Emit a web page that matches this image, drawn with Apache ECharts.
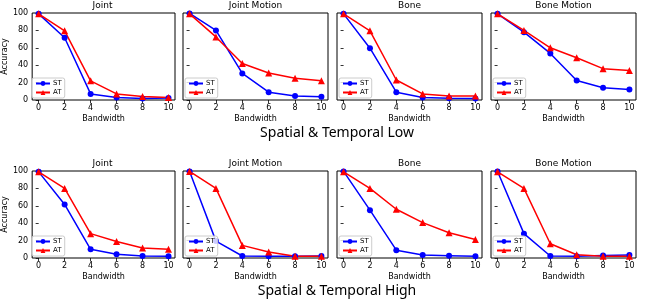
<!DOCTYPE html>
<html>
<head>
<meta charset="utf-8">
<script src="https://cdn.jsdelivr.net/npm/echarts@6/dist/echarts.min.js"></script>
<style>html,body{margin:0;padding:0;background:#fff;}#c{width:664px;height:301px;}</style>
</head>
<body>
<div id="c"></div>
<script>
var bandwidth = [0, 2, 4, 6, 8, 10];
var xTicks = [0, 2, 4, 6, 8, 10];
var yTicks = [0, 20, 40, 60, 80, 100];
var panelTitles = ['Joint', 'Joint Motion', 'Bone', 'Bone Motion'];
var rowCaptions = ['Spatial & Temporal Low', 'Spatial & Temporal High'];

// Row 1: Spatial & Temporal Low
var lowJointST = [99, 71.5, 7, 3, 1.8, 2.3];
var lowJointAT = [99, 79.5, 22, 7, 4, 2.8];
var lowJointMotionST = [99.5, 80, 30.5, 9, 4.6, 3.8];
var lowJointMotionAT = [99, 72.5, 42, 31, 25, 22];
var lowBoneST = [99, 59.5, 9, 3, 2, 1.7];
var lowBoneAT = [99, 79.5, 23, 7, 4.6, 4.6];
var lowBoneMotionST = [99, 78, 53.5, 22.5, 14, 12];
var lowBoneMotionAT = [99, 80, 60, 48.5, 36, 34];

// Row 2: Spatial & Temporal High
var highJointST = [99, 61.5, 10, 4.2, 2.3, 2];
var highJointAT = [99, 80, 28, 19, 11.4, 10];
var highJointMotionST = [99.5, 19.4, 2.3, 2, 2, 2.2];
var highJointMotionAT = [99.5, 80, 14.5, 7, 2, 2];
var highBoneST = [99.5, 55, 9, 3.4, 2.7, 2];
var highBoneAT = [99, 80, 56, 40.7, 29, 21.3];
var highBoneMotionST = [99.5, 28, 2.3, 2, 3, 3.4];
var highBoneMotionAT = [99, 80, 16.4, 3.8, 2, 2];

var rows = [
  [[lowJointST, lowJointAT], [lowJointMotionST, lowJointMotionAT], [lowBoneST, lowBoneAT], [lowBoneMotionST, lowBoneMotionAT]],
  [[highJointST, highJointAT], [highJointMotionST, highJointMotionAT], [highBoneST, highBoneAT], [highBoneMotionST, highBoneMotionAT]]
];

var lefts = [30, 183, 337, 491];
var gw = 145;
var tops = [13, 171];
var gh = 87;
var FONT = 'DejaVu Sans';

var grids = [], xAxes = [], yAxes = [], series = [], titles = [], legends = [];
function pairs(vals) { return bandwidth.map(function (b, i) { return [b, vals[i]]; }); }

for (var r = 0; r < 2; r++) {
  for (var p = 0; p < 4; p++) {
    var idx = r * 4 + p;
    grids.push({ left: lefts[p], top: tops[r], width: gw, height: gh, show: true, borderColor: '#000', borderWidth: 1, backgroundColor: 'transparent' });
    xAxes.push({
      type: 'value', gridIndex: idx, min: -0.5, max: 10.5,
      axisLine: { show: false }, splitLine: { show: false },
      axisTick: { show: true, length: 3, lineStyle: { color: '#000', width: 0.8 }, customValues: xTicks },
      axisLabel: { show: true, fontSize: 8, color: '#000', fontFamily: FONT, margin: 4, customValues: xTicks },
      name: 'Bandwidth', nameLocation: 'middle', nameGap: 15,
      nameTextStyle: { fontSize: 8, color: '#000', fontFamily: FONT }
    });
    yAxes.push({
      type: 'value', gridIndex: idx, min: 0, max: 100, interval: 20,
      axisLine: { show: false }, splitLine: { show: false },
      axisTick: { show: true, length: 3, lineStyle: { color: '#000', width: 0.8 } },
      axisLabel: { show: p === 0, fontSize: 8, color: '#000', fontFamily: FONT, margin: 4 },
      name: p === 0 ? 'Accuracy' : '', nameLocation: 'middle', nameGap: 19, nameRotate: 90,
      nameTextStyle: { fontSize: 8, color: '#000', fontFamily: FONT }
    });
    series.push({
      name: 'ST', type: 'line', xAxisIndex: idx, yAxisIndex: idx, data: pairs(rows[r][p][0]),
      symbol: 'circle', symbolSize: 6, color: '#0000ff',
      lineStyle: { width: 1.5, color: '#0000ff' }, itemStyle: { color: '#0000ff' }, animation: false
    });
    series.push({
      name: 'AT', type: 'line', xAxisIndex: idx, yAxisIndex: idx, data: pairs(rows[r][p][1]),
      symbol: 'triangle', symbolSize: 7, color: '#ff0000',
      lineStyle: { width: 1.5, color: '#ff0000' }, itemStyle: { color: '#ff0000' }, animation: false
    });
    titles.push({
      text: panelTitles[p], left: lefts[p] + gw / 2, top: tops[r] - 12, textAlign: 'center', padding: 0,
      textStyle: { fontSize: 9, fontWeight: 'normal', color: '#000', fontFamily: FONT }
    });
    legends.push({
      data: ['ST', 'AT'], orient: 'vertical', left: lefts[p] + 2, top: tops[r] + 65,
      itemWidth: 14, itemHeight: 6, itemGap: 2, padding: [2, 3, 2, 3],
      borderColor: '#ccc', borderWidth: 1, borderRadius: 2, backgroundColor: 'rgba(255,255,255,0.8)',
      textStyle: { fontSize: 7, color: '#000', fontFamily: FONT, padding: [0, 0, 0, -2] },
      selectedMode: false
    });
  }
}
titles.push({ text: rowCaptions[0], left: 337, top: 126, padding: 0, textAlign: 'center', textStyle: { fontSize: 14, fontWeight: 'normal', color: '#000', fontFamily: 'Noto Sans' } });
titles.push({ text: rowCaptions[1], left: 337, top: 284, padding: 0, textAlign: 'center', textStyle: { fontSize: 14, fontWeight: 'normal', color: '#000', fontFamily: 'Noto Sans' } });

var chart = echarts.init(document.getElementById('c'), null, { renderer: 'canvas' });
chart.setOption({
  animation: false,
  backgroundColor: '#fff',
  title: titles, grid: grids, xAxis: xAxes, yAxis: yAxes, legend: legends, series: series
});
</script>
</body>
</html>
